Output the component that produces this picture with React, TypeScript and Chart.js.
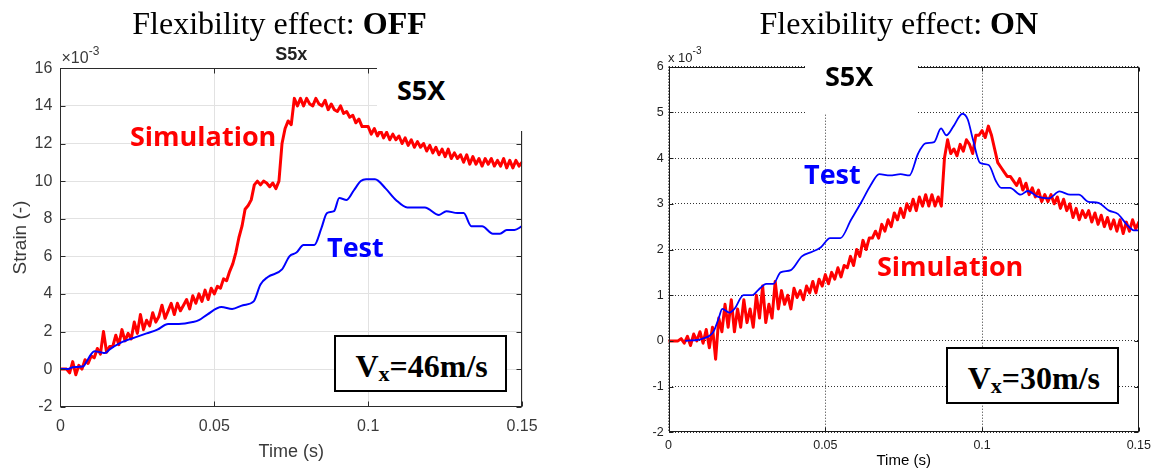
import React, { useEffect, useRef } from "react";
import { Chart, registerables } from "chart.js";

Chart.register(...registerables);

// ---------------- data (strain in 1e-3, time in ms) ----------------
const SIM_T_MS = [
  0, 1, 2, 3, 4, 5, 6, 7, 8, 9, 10, 11, 12, 13, 14, 15, 16, 17, 18, 19,
  20, 21, 22, 23, 24, 25, 26, 27, 28, 29, 30, 31, 32, 33, 34, 35, 36, 37, 38, 39,
  40, 41, 42, 43, 44, 45, 46, 47, 48, 49, 50, 51, 52, 53, 54, 55, 56, 57, 58, 59,
  60, 61, 62, 63, 64, 65, 66, 67, 68, 69, 70, 71, 72, 73, 74, 75, 76, 77, 78, 79,
  80, 81, 82, 83, 84, 85, 86, 87, 88, 89, 90, 91, 92, 93, 94, 95, 96, 97, 98, 99,
  100, 101, 102, 103, 104, 105, 106, 107, 108, 109, 110, 111, 112, 113, 114, 115, 116, 117, 118, 119,
  120, 121, 122, 123, 124, 125, 126, 127, 128, 129, 130, 131, 132, 133, 134, 135, 136, 137, 138, 139,
  140, 141, 142, 143, 144, 145, 146, 147, 148, 149, 150,
];

const SIM_OFF = [
  0, 0, 0, -0.2, 0.4, -0.3, 0.2, 0.0, 0.5, 0.3,
  0.7, 0.6, 1.1, 0.8, 2.0, 0.9, 1.2, 1.2, 1.8, 1.3,
  2.1, 1.5, 1.9, 1.6, 2.5, 1.9, 2.9, 2.1, 2.6, 2.3,
  3.0, 2.5, 2.8, 3.4, 2.7, 3.1, 3.5, 2.9, 3.5, 3.1,
  3.4, 3.7, 3.2, 3.9, 3.5, 4.0, 3.6, 4.2, 3.7, 4.3,
  4.0, 4.4, 4.3, 4.8, 4.7, 5.2, 5.6, 6.2, 7.0, 7.6,
  8.5, 8.7, 9.0, 9.8, 10.0, 9.8, 10.0, 9.9, 9.7, 9.9,
  9.6, 10.0, 12.0, 12.8, 13.2, 13.0, 14.4, 14.0, 14.4, 14.0,
  14.4, 14.1, 14.0, 14.4, 14.1, 14.0, 14.3, 13.8, 14.1, 13.8,
  13.7, 14.0, 13.6, 13.7, 13.4, 13.5, 13.1, 13.3, 12.9, 12.9,
  12.9, 12.5, 12.8, 12.4, 12.7, 12.3, 12.6, 12.2, 12.5, 12.2,
  12.4, 12.0, 12.3, 11.9, 12.2, 11.8, 12.1, 11.8, 12.0, 11.6,
  11.9, 11.5, 11.8, 11.4, 11.7, 11.3, 11.7, 11.2, 11.5, 11.2,
  11.4, 11.0, 11.4, 10.9, 11.3, 10.9, 11.2, 10.8, 11.2, 10.9,
  11.2, 10.8, 11.1, 10.8, 11.2, 10.7, 11.1, 10.7, 11.1, 10.8,
  11.0,
];

const TEST_OFF_T_MS = [
  0, 2.5, 4, 7.5, 8.5, 10, 11, 13, 14.5, 16, 19.5, 24.5, 28, 31.5, 35, 38.5, 43, 45,
  47.7, 52.3, 55.8, 59.3, 62.8, 65, 67.4, 72, 74.4, 76.7, 79, 82.5, 84.8, 86.6, 88.9,
  90.6, 93, 95.3, 97.6, 99.3, 102.2, 105.7, 109, 112.7, 118.4, 123, 125.4, 129, 131,
  133.5, 137, 140.5, 142.8, 145, 147.5, 150,
];
const TEST_OFF = [
  0, 0, 0.1, 0.15, 0.4, 0.8, 0.95, 0.9, 0.85, 1.05, 1.4, 1.7, 1.9, 2.1, 2.4, 2.4, 2.5, 2.6,
  2.9, 3.3, 3.2, 3.4, 3.6, 4.5, 4.9, 5.3, 6.0, 6.2, 6.6, 6.6, 7.5, 8.3, 8.4,
  9.1, 9.0, 9.5, 10.0, 10.1, 10.1, 9.6, 9.0, 8.6, 8.6, 8.2, 8.4, 8.3, 8.3,
  7.6, 7.6, 7.2, 7.2, 7.4, 7.4, 7.6,
];

const SIM_ON = [
  0, 0, 0, 0, 0.05, -0.05, 0.1, -0.1, 0.15, 0,
  0.2, -0.05, 0.25, -0.15, 0.3, -0.4, 0.5, 0.2, 0.8, 0.3,
  0.9, 0.2, 0.7, 0.3, 0.9, 0.4, 0.7, 0.3, 1.0, 0.5,
  1.2, 0.4, 0.8, 0.5, 1.3, 0.7, 1.1, 0.8, 1.0, 0.7,
  1.15, 0.95, 1.1, 0.9, 1.2, 1.05, 1.3, 1.05, 1.35, 1.2,
  1.45, 1.25, 1.5, 1.35, 1.6, 1.4, 1.65, 1.6, 1.85, 1.65,
  2.0, 1.85, 2.2, 2.0, 2.25, 2.25, 2.4, 2.25, 2.55, 2.4,
  2.65, 2.5, 2.8, 2.65, 2.9, 2.7, 3.0, 2.85, 3.1, 2.85,
  3.15, 2.95, 3.2, 2.95, 3.2, 2.95, 3.15, 2.95, 4.0, 4.4,
  4.1, 4.2, 4.05, 4.3, 4.15, 4.4, 4.3, 4.1, 4.5, 4.5,
  4.6, 4.45, 4.7, 4.5, 4.2, 3.9, 3.8, 3.7, 3.6, 3.6,
  3.5, 3.4, 3.55, 3.3, 3.45, 3.2, 3.35, 3.15, 3.3, 3.05,
  3.2, 3.05, 3.2, 3.0, 3.15, 2.9, 3.1, 2.85, 3.0, 2.7,
  2.9, 2.65, 2.85, 2.7, 2.85, 2.6, 2.8, 2.55, 2.75, 2.5,
  2.7, 2.45, 2.65, 2.4, 2.65, 2.35, 2.6, 2.4, 2.65, 2.45,
  2.6,
];

const TEST_ON_T_MS = [
  5.3, 10.9, 14.3, 16, 17.1, 19.4, 21, 23.9, 26.7, 28.4, 31.2, 33.4, 35.7, 39, 42.5,
  45.8, 48.6, 51.5, 54.8, 58.2, 61.6, 64.4, 67.2, 70.6, 74, 76.8, 79.6, 81.9, 84.7,
  86.9, 88.6, 90.9, 93.7, 95.4, 97.1, 99.3, 102.1, 104.4, 106.1, 108.9, 112.3, 114.5,
  117.9, 121.3, 124.7, 128.1, 130.9, 133.7, 137.1, 140.5, 143.3, 146.1, 148.4, 150,
];
const TEST_ON = [
  0, 0.05, 0.2, 0.5, 0.7, 0.62, 0.7, 1.0, 1.0, 1.1, 1.25, 1.25, 1.5, 1.55, 1.85,
  1.95, 2.05, 2.25, 2.25, 2.65, 3.05, 3.4, 3.65, 3.62, 3.65, 3.62, 4.1, 4.32, 4.35,
  4.65, 4.5, 4.7, 4.97, 4.85, 4.4, 3.9, 3.85, 3.5, 3.35, 3.35, 3.2, 3.28,
  3.15, 3.12, 3.27, 3.2, 3.2, 3.05, 3.02, 2.85, 2.78, 2.55, 2.42, 2.42,
];

const X_TICKS = [0, 0.05, 0.1, 0.15];
const X_TICK_LABELS = ["0", "0.05", "0.1", "0.15"];
const Y_TICKS_OFF = [-2, 0, 2, 4, 6, 8, 10, 12, 14, 16];
const Y_TICKS_ON = [-2, -1, 0, 1, 2, 3, 4, 5, 6];

// ---------------- styling ----------------
const SERIF = '"Liberation Serif", "Times New Roman", serif';
const SANS = '"Liberation Sans", Arial, Helvetica, sans-serif';
const CALIBRI = '"Open Sans", "Noto Sans", sans-serif';

const toPoints = (tMs: number[], v: number[]) => tMs.map((t, i) => ({ x: t / 1000, y: v[i] }));

const framePlugin = {
  id: "frame",
  afterDraw(chart: any, _args: any, opts: any) {
    const { ctx, chartArea, scales } = chart;
    const L = Math.round(chartArea.left) + 0.5;
    const R = Math.round(chartArea.right) - 0.5;
    const T = Math.round(chartArea.top) + 0.5;
    const B = Math.round(chartArea.bottom) - 0.5;
    ctx.save();
    ctx.strokeStyle = opts.color;
    ctx.lineWidth = 1;
    ctx.setLineDash([]);
    ctx.strokeRect(L, T, R - L, B - T);
    const tl = opts.tick;
    ctx.beginPath();
    scales.y.ticks.forEach((t: any) => {
      const y = Math.round(scales.y.getPixelForValue(t.value)) + 0.5;
      ctx.moveTo(L, y); ctx.lineTo(L + tl, y);
      ctx.moveTo(R, y); ctx.lineTo(R - tl, y);
    });
    scales.x.ticks.forEach((t: any) => {
      const x = Math.round(scales.x.getPixelForValue(t.value)) + 0.5;
      ctx.moveTo(x, B); ctx.lineTo(x, B - tl);
      ctx.moveTo(x, T); ctx.lineTo(x, T + tl);
    });
    ctx.stroke();
    ctx.restore();
  },
};

type PanelSpec = {
  w: number; h: number;
  area: { left: number; top: number; right: number; bottom: number };
  yTicks: number[]; yMin: number; yMax: number;
  sim: number[]; testT: number[]; test: number[];
  simWidth: number; testWidth: number;
  tickFont: number; tickColor: string; xTickPad: number; yTickPad: number;
  gridColor: string; dash: number[]; frameColor: string; tickLen: number;
  xTitleFont: number; xTitlePad: number; xTitleColor: string;
  yTitle: string | null; yTitleFont: number; yTitlePad: number;
};

const LEFT: PanelSpec = {
  w: 580, h: 470,
  area: { left: 60.4, top: 68.3, right: 522.1, bottom: 406.7 },
  yTicks: Y_TICKS_OFF, yMin: -2, yMax: 16,
  sim: SIM_OFF, testT: TEST_OFF_T_MS, test: TEST_OFF,
  simWidth: 3, testWidth: 2,
  tickFont: 16, tickColor: "#3a3a3a", xTickPad: 10, yTickPad: 8,
  gridColor: "#e2e2e2", dash: [], frameColor: "#2b2b2b", tickLen: 5,
  xTitleFont: 18, xTitlePad: 7, xTitleColor: "#3a3a3a",
  yTitle: "Strain (-)", yTitleFont: 19, yTitlePad: 9,
};

const RIGHT: PanelSpec = {
  w: 557, h: 470,
  area: { left: 68.6, top: 66.7, right: 541.7, bottom: 432.3 },
  yTicks: Y_TICKS_ON, yMin: -2, yMax: 6,
  sim: SIM_ON, testT: TEST_ON_T_MS, test: TEST_ON,
  simWidth: 3, testWidth: 1.8,
  tickFont: 12.5, tickColor: "#222", xTickPad: 6, yTickPad: 5,
  gridColor: "#333", dash: [1, 2], frameColor: "#1a1a1a", tickLen: 4,
  xTitleFont: 15, xTitlePad: 0, xTitleColor: "#000",
  yTitle: null, yTitleFont: 15, yTitlePad: 0,
};

function makeConfig(p: PanelSpec): any {
  return {
    type: "line",
    data: {
      datasets: [
        {
          label: "Test",
          data: toPoints(p.testT, p.test),
          borderColor: "#0000ff",
          borderWidth: p.testWidth,
          borderJoinStyle: "round",
          pointRadius: 0,
          cubicInterpolationMode: "monotone",
          fill: false,
          order: 0,
        },
        {
          label: "Simulation",
          data: toPoints(SIM_T_MS, p.sim),
          borderColor: "#ff0000",
          borderWidth: p.simWidth,
          borderJoinStyle: "round",
          borderCapStyle: "round",
          pointRadius: 0,
          tension: 0,
          fill: false,
          order: 1,
        },
      ],
    },
    options: {
      animation: false,
      responsive: false,
      events: [],
      layout: { padding: { left: 0, top: p.area.top, right: p.w - p.area.right, bottom: 0 } },
      plugins: {
        legend: { display: false },
        tooltip: { enabled: false },
        frame: { color: p.frameColor, tick: p.tickLen },
      },
      scales: {
        x: {
          type: "linear",
          min: 0,
          max: 0.15,
          afterBuildTicks: (s: any) => { s.ticks = X_TICKS.map((v) => ({ value: v })); },
          afterFit: (s: any) => { s.height = p.h - p.area.bottom; },
          grid: { color: p.gridColor, lineWidth: 1, drawTicks: false },
          border: { display: false, dash: p.dash },
          ticks: {
            autoSkip: false,
            maxRotation: 0,
            padding: p.xTickPad,
            color: p.tickColor,
            font: { family: SANS, size: p.tickFont },
            callback: (v: number) => {
              const i = X_TICKS.indexOf(v);
              return i >= 0 ? X_TICK_LABELS[i] : "";
            },
          },
          title: {
            display: true,
            text: "Time (s)",
            color: p.xTitleColor,
            font: { family: SANS, size: p.xTitleFont },
            padding: { top: 0, bottom: p.xTitlePad },
          },
        },
        y: {
          type: "linear",
          min: p.yMin,
          max: p.yMax,
          afterBuildTicks: (s: any) => { s.ticks = p.yTicks.map((v) => ({ value: v })); },
          afterFit: (s: any) => { s.width = p.area.left; },
          grid: { color: p.gridColor, lineWidth: 1, drawTicks: false },
          border: { display: false, dash: p.dash },
          ticks: {
            autoSkip: false,
            padding: p.yTickPad,
            color: p.tickColor,
            font: { family: SANS, size: p.tickFont },
            callback: (v: number) => String(v),
          },
          title: {
            display: !!p.yTitle,
            text: p.yTitle || "",
            color: p.tickColor,
            font: { family: SANS, size: p.yTitleFont },
            padding: { top: p.yTitlePad, bottom: 0 },
          },
        },
      },
    },
    plugins: [framePlugin],
  };
}

function Txt(props: {
  x: number; top: number; size: number; family: string; weight?: string | number;
  color?: string; center?: boolean; children: React.ReactNode;
}) {
  const { x, top, size, family, weight = "normal", color = "#000", center = false, children } = props;
  return (
    <div
      style={{
        position: "absolute",
        left: x,
        top,
        fontFamily: family,
        fontSize: size,
        fontWeight: weight as any,
        color,
        lineHeight: `${size}px`,
        whiteSpace: "nowrap",
        transform: center ? "translateX(-50%)" : undefined,
      }}
    >
      {children}
    </div>
  );
}

function WhiteBox(props: { x: number; y: number; w: number; h: number; border?: boolean }) {
  return (
    <div
      style={{
        position: "absolute",
        left: props.x,
        top: props.y,
        width: props.w,
        height: props.h,
        background: "#fff",
        boxSizing: "border-box",
        border: props.border ? "2px solid #000" : "none",
      }}
    />
  );
}

export default function App() {
  const leftRef = useRef<HTMLCanvasElement>(null);
  const rightRef = useRef<HTMLCanvasElement>(null);

  useEffect(() => {
    const a = new Chart(leftRef.current as HTMLCanvasElement, makeConfig(LEFT));
    const b = new Chart(rightRef.current as HTMLCanvasElement, makeConfig(RIGHT));
    return () => {
      a.destroy();
      b.destroy();
    };
  }, []);

  return (
    <div
      style={{
        position: "fixed",
        left: 0,
        top: 0,
        width: 1157,
        height: 470,
        overflow: "hidden",
        background: "#fff",
      }}
    >
      <canvas
        ref={leftRef}
        width={LEFT.w}
        height={LEFT.h}
        style={{ position: "absolute", left: 0, top: 0, width: LEFT.w, height: LEFT.h, display: "block" }}
      />
      <canvas
        ref={rightRef}
        width={RIGHT.w}
        height={RIGHT.h}
        style={{ position: "absolute", left: 600, top: 0, width: RIGHT.w, height: RIGHT.h, display: "block" }}
      />

      {/* ---------- left panel overlays ---------- */}
      <Txt x={279.5} top={7.2} size={32} family={SERIF} center>
        Flexibility effect: <b>OFF</b>
      </Txt>
      <Txt x={291.3} top={44.8} size={18} family={SANS} weight="bold" color="#222" center>
        S5x
      </Txt>
      <Txt x={61.5} top={49.8} size={16} family={SANS} color="#3a3a3a">
        ×10<span style={{ fontSize: 12, position: "relative", top: -8 }}>-3</span>
      </Txt>
      <WhiteBox x={377} y={56} w={160} h={75} />
      <Txt x={397} top={76} size={27} family={CALIBRI} weight="bold">
        S5X
      </Txt>
      <Txt x={130} top={122} size={27} family={CALIBRI} weight="bold" color="#ff0000">
        Simulation
      </Txt>
      <Txt x={327} top={233} size={27} family={CALIBRI} weight="bold" color="#0000ff">
        Test
      </Txt>
      <WhiteBox x={334} y={335} w={173} h={57} border />
      <Txt x={355.4} top={349.9} size={32} family={SERIF} weight="bold">
        V<span style={{ fontSize: 22, position: "relative", top: 4 }}>x</span>=46m/s
      </Txt>

      {/* ---------- right panel overlays ---------- */}
      <Txt x={898.8} top={7.2} size={32} family={SERIF} center>
        Flexibility effect: <b>ON</b>
      </Txt>
      <Txt x={668} top={51} size={13} family={SANS} color="#222">
        x 10<span style={{ fontSize: 10, position: "relative", top: -8 }}>-3</span>
      </Txt>
      <WhiteBox x={805} y={55} w={113} h={59} />
      <Txt x={825} top={61.5} size={27} family={CALIBRI} weight="bold">
        S5X
      </Txt>
      <Txt x={804} top={160} size={27} family={CALIBRI} weight="bold" color="#0000ff">
        Test
      </Txt>
      <Txt x={877} top={252} size={27} family={CALIBRI} weight="bold" color="#ff0000">
        Simulation
      </Txt>
      <WhiteBox x={946} y={347} w={173} h={57} border />
      <Txt x={967.7} top={361.5} size={32} family={SERIF} weight="bold">
        V<span style={{ fontSize: 22, position: "relative", top: 4 }}>x</span>=30m/s
      </Txt>
    </div>
  );
}
